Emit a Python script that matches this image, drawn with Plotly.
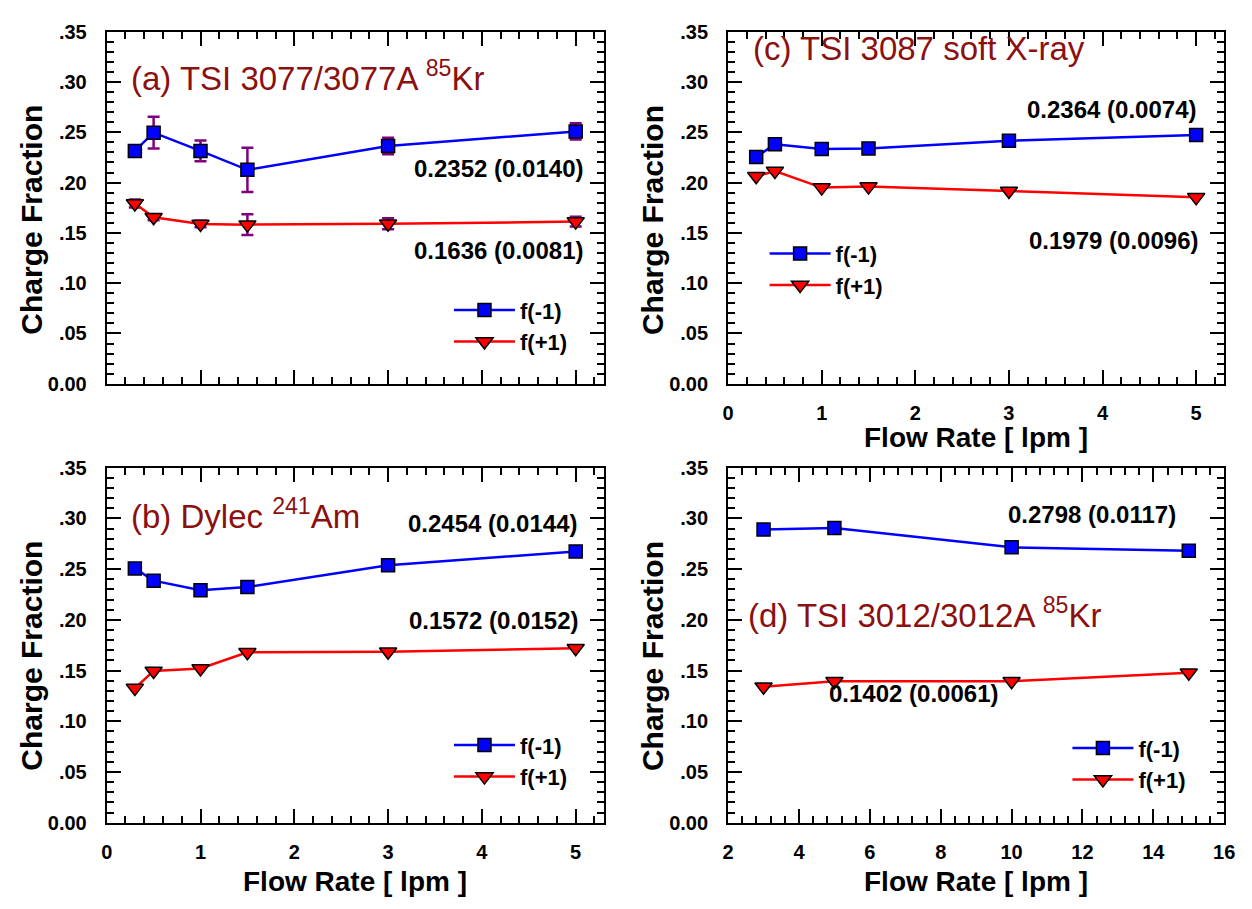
import plotly.graph_objects as go

# page body has an 8px default margin: all reference pixel positions are
# shifted by that offset
OFF = 8
W, H = 1252 - OFF, 909 - 2 * OFF
FONT = "Liberation Sans, Arial, sans-serif"
TITLE_COLOR = "#8B1010"

# ---------------- data ----------------
flow_abc = [0.3, 0.5, 1, 1.5, 3, 5]
flow_d = [3, 5, 10, 15]

a_neg = [0.2315, 0.2496, 0.2315, 0.2127, 0.2363, 0.2509]
a_neg_err = [0.0045, 0.0158, 0.0104, 0.022, 0.0082, 0.008]
a_pos = [0.1792, 0.1655, 0.1588, 0.1582, 0.1590, 0.1612]
a_pos_err = [0.004, 0.003, 0.0032, 0.0102, 0.0055, 0.0048]

b_neg = [0.2507, 0.2386, 0.2292, 0.2324, 0.2539, 0.2674]
b_pos = [0.1327, 0.1495, 0.1520, 0.1680, 0.1686, 0.1720]

c_neg = [0.2255, 0.2380, 0.2335, 0.2340, 0.2415, 0.2474]
c_pos = [0.2063, 0.2114, 0.1950, 0.1960, 0.1917, 0.1853]

d_neg = [0.2890, 0.2905, 0.2715, 0.2680]
d_pos = [0.1340, 0.1395, 0.1395, 0.1478]

y_tickvals = [0, 0.05, 0.10, 0.15, 0.20, 0.25, 0.30, 0.35]
y_ticktext = ["0.00", ".05", ".10", ".15", ".20", ".25", ".30", ".35"]

panel_titles = ["(a) TSI 3077/3077A <sup>85</sup>Kr",
                "(b) Dylec <sup>241</sup>Am",
                "(c) TSI 3087 soft X-ray",
                "(d) TSI 3012/3012A <sup>85</sup>Kr"]
stat_texts = {"a": ["0.2352 (0.0140)", "0.1636 (0.0081)"],
              "b": ["0.2454 (0.0144)", "0.1572 (0.0152)"],
              "c": ["0.2364 (0.0074)", "0.1979 (0.0096)"],
              "d": ["0.2798 (0.0117)", "0.1402 (0.0061)"]}
series_names = ["f(-1)", "f(+1)"]
x_title = "Flow Rate [ lpm ]"
y_title = "Charge Fraction"


def px(x):
    return (x - OFF) / W


def py(y):
    return 1 - (y - OFF) / H


fig = go.Figure()

panels = {
    "a": ("x", "y", "legend", flow_abc, a_neg, a_pos, a_neg_err, a_pos_err),
    "b": ("x2", "y2", "legend2", flow_abc, b_neg, b_pos, None, None),
    "c": ("x3", "y3", "legend3", flow_abc, c_neg, c_pos, None, None),
    "d": ("x4", "y4", "legend4", flow_d, d_neg, d_pos, None, None),
}

for key, (xa, ya, lg, xs, neg, pos, negerr, poserr) in panels.items():
    err_neg = None
    err_pos = None
    if negerr is not None:
        err_neg = dict(type="data", array=negerr, visible=True, color="#800080",
                       thickness=2.5, width=6)
        err_pos = dict(type="data", array=poserr, visible=True, color="#800080",
                       thickness=2.5, width=6)
    fig.add_trace(go.Scatter(
        x=xs, y=neg, name=series_names[0], mode="lines+markers",
        xaxis=xa, yaxis=ya, legend=lg, error_y=err_neg,
        line=dict(color="#0000FF", width=2.5),
        marker=dict(symbol="square", size=13, color="#0000FF",
                    line=dict(color="black", width=1.5)),
        cliponaxis=False))
    fig.add_trace(go.Scatter(
        x=xs, y=pos, name=series_names[1], mode="lines+markers",
        xaxis=xa, yaxis=ya, legend=lg, error_y=err_pos,
        line=dict(color="#FF0000", width=2.5),
        marker=dict(symbol="triangle-down", size=15, color="#FF0000",
                    line=dict(color="black", width=1.5)),
        cliponaxis=False))

tickfont = dict(family=FONT, size=20, color="black", weight="bold")


def make_x(domain, rng, dtick, minor_dtick, anchor, labels=True):
    return dict(domain=domain, range=rng, tick0=0, dtick=dtick, anchor=anchor,
                showline=True, linecolor="black", linewidth=2, mirror="allticks",
                ticks="inside", ticklen=14, tickwidth=2, tickcolor="black",
                showgrid=False, zeroline=False, showticklabels=labels,
                tickfont=tickfont, ticklabelstandoff=10,
                ticklabeloverflow="allow",
                minor=dict(ticks="inside", ticklen=7, tickwidth=1.5,
                           tickcolor="black", dtick=minor_dtick, tick0=0,
                           showgrid=False))


def make_y(domain, anchor):
    return dict(domain=domain, range=[0, 0.35], anchor=anchor,
                tickmode="array", tickvals=y_tickvals, ticktext=y_ticktext,
                showline=True, linecolor="black", linewidth=2, mirror="allticks",
                ticks="inside", ticklen=14, tickwidth=2, tickcolor="black",
                showgrid=False, zeroline=False, tickfont=tickfont,
                ticklabelstandoff=14, ticklabeloverflow="allow",
                minor=dict(ticks="inside", ticklen=7, tickwidth=1.5,
                           tickcolor="black", dtick=0.01, tick0=0,
                           showgrid=False))


xl = [px(102), px(606)]
xr = [px(732), px(1235)]
yt = [py(382), py(21)]
yb = [py(832), py(468)]

legend_common = dict(xanchor="left", yanchor="top", bgcolor="rgba(0,0,0,0)",
                     font=dict(family=FONT, size=22, color="black", weight="bold"),
                     tracegroupgap=0, borderwidth=0, itemwidth=61)

fig.update_layout(
    width=W, height=H, margin=dict(l=0, r=0, t=0, b=0),
    paper_bgcolor="white", plot_bgcolor="white",
    font=dict(family=FONT, color="black"),
    xaxis=make_x(xl, [0, 5.3], 1, 0.2, "y", labels=False),
    yaxis=make_y(yt, "x"),
    xaxis2=make_x(xl, [0, 5.3], 1, 0.2, "y2"),
    yaxis2=make_y(yb, "x2"),
    xaxis3=make_x(xr, [0, 5.3], 1, 0.2, "y3"),
    yaxis3=make_y(yt, "x3"),
    xaxis4=make_x(xr, [2, 16], 2, 0.4, "y4"),
    yaxis4=make_y(yb, "x4"),
    legend=dict(x=px(449), y=py(285), **legend_common),
    legend2=dict(x=px(449), y=py(731), **legend_common),
    legend3=dict(x=px(769), y=py(227), **legend_common),
    legend4=dict(x=px(1076), y=py(734), **legend_common),
)

ann = []
title_pos = [(125, 66), (125, 516), (755, 38), (750, 617)]
for t, (x, y) in zip(panel_titles, title_pos):
    ann.append(dict(text=t, x=px(x), y=py(y), xref="paper", yref="paper",
                    xanchor="left", yanchor="middle", showarrow=False,
                    font=dict(family=FONT, size=33, color=TITLE_COLOR)))

stat_pos = {"a": [(587, 161, "right"), (587, 245, "right")],
            "b": [(581, 525, "right"), (582, 625, "right")],
            "c": [(1208, 101, "right"), (1210, 235, "right")],
            "d": [(1188, 516, "right"), (920, 700, "center")]}
for k, texts in stat_texts.items():
    for t, (x, y, xa) in zip(texts, stat_pos[k]):
        ann.append(dict(text=t, x=px(x), y=py(y), xref="paper", yref="paper",
                        xanchor=xa, yanchor="middle", showarrow=False,
                        font=dict(family=FONT, size=24, color="black",
                                  weight="bold")))

for (x, y) in [(26, 214), (656, 214), (26, 661), (656, 661)]:
    ann.append(dict(text=y_title, x=px(x), y=py(y), xref="paper", yref="paper",
                    xanchor="center", yanchor="middle", textangle=-90,
                    showarrow=False,
                    font=dict(family=FONT, size=30, color="black", weight="bold")))
for (x, y) in [(983, 437), (354, 892), (983, 892)]:
    ann.append(dict(text=x_title, x=px(x), y=py(y), xref="paper", yref="paper",
                    xanchor="center", yanchor="middle", showarrow=False,
                    font=dict(family=FONT, size=28, color="black", weight="bold")))

fig.update_layout(annotations=ann)
fig.write_html("out.html")
